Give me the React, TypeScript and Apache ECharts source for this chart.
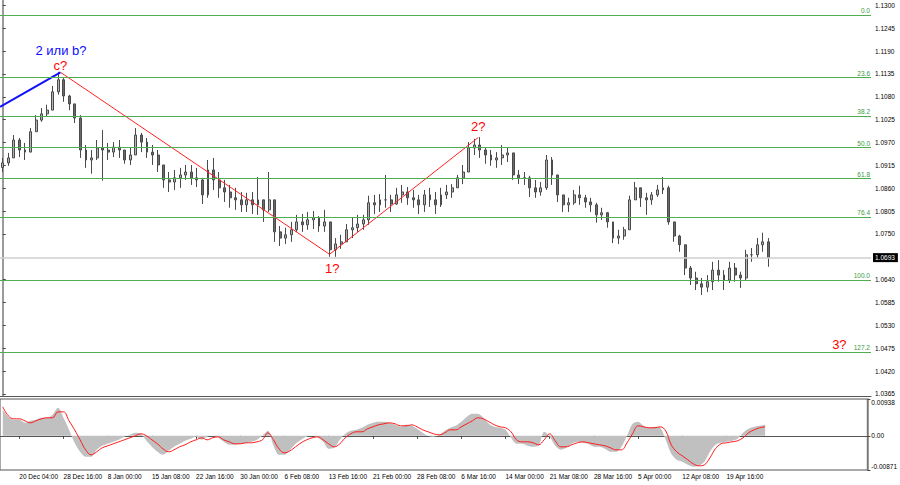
import React, { useEffect, useRef } from "react";
import * as echarts from "echarts";

// ---- price data (H4 EUR/USD, aggregated candles) ----
const firstOpen = 1.091;
const closes = [
  1.0921, 1.0933, 1.0976, 1.0952, 1.0947, 1.0996, 1.1024, 1.1039, 1.1048, 1.1092,
  1.1121, 1.1082, 1.1063, 1.1029, 1.0952, 1.0928, 1.0933, 1.0957, 1.0952, 1.0947,
  1.0959, 1.0952, 1.0928, 1.094, 1.0988, 1.0971, 1.0947, 1.094, 1.0916, 1.088,
  1.0875, 1.0885, 1.0892, 1.0899, 1.0885, 1.088, 1.0844, 1.0904, 1.088, 1.0861,
  1.0851, 1.0837, 1.0832, 1.082, 1.0832, 1.082, 1.0832, 1.0808, 1.0832, 1.0755,
  1.074, 1.0748, 1.076, 1.0779, 1.0772, 1.0784, 1.0789, 1.0769, 1.0779, 1.0712,
  1.0726, 1.0731, 1.076, 1.0765, 1.0774, 1.0784, 1.0825, 1.082, 1.0832, 1.0832,
  1.0822, 1.0844, 1.0851, 1.0837, 1.0832, 1.082, 1.0844, 1.0832, 1.082, 1.0844,
  1.0851, 1.0861, 1.0885, 1.0899, 1.0957, 1.0964, 1.0952, 1.094, 1.0928, 1.0933,
  1.094, 1.0945, 1.0892, 1.0885, 1.0885, 1.0861, 1.0851, 1.0861, 1.0928, 1.0892,
  1.0844, 1.082, 1.0825, 1.0844, 1.0837, 1.0827, 1.082, 1.0796, 1.0801, 1.0779,
  1.074, 1.0745, 1.076, 1.0832, 1.0861, 1.0837, 1.0832, 1.0844, 1.0856, 1.0861,
  1.0779, 1.0745, 1.0724, 1.0668, 1.0644, 1.063, 1.0622, 1.0635, 1.0663, 1.0651,
  1.0639, 1.0668, 1.0651, 1.0644, 1.07, 1.07, 1.0724, 1.0731, 1.0693,
];
const highs = [
  1.0933, 1.0945, 1.0988, 1.0981, 1.0969, 1.1005, 1.1036, 1.1053, 1.1061, 1.1106,
  1.114, 1.1125, 1.1085, 1.1063, 1.1036, 1.0964, 1.0952, 1.0976, 1.1, 1.0969,
  1.0971, 1.0976, 1.0952, 1.0957, 1.1005, 1.0993, 1.0981, 1.0964, 1.0952, 1.0916,
  1.0899, 1.0904, 1.0909, 1.0916, 1.0916, 1.0909, 1.0885, 1.0928, 1.0933, 1.0899,
  1.088, 1.0868, 1.0861, 1.0851, 1.0849, 1.0851, 1.0887, 1.0832, 1.0899, 1.0832,
  1.0769, 1.0765, 1.0779, 1.0796, 1.0798, 1.0803, 1.0805, 1.0793, 1.0808, 1.0772,
  1.074, 1.0748, 1.0774, 1.0789, 1.0796, 1.0796, 1.0842, 1.0844, 1.0846, 1.0892,
  1.0844, 1.0861, 1.0868, 1.0863, 1.0856, 1.0844, 1.0856, 1.0861, 1.0851, 1.0861,
  1.0868, 1.087, 1.0892, 1.0916, 1.0971, 1.0979, 1.0983, 1.0957, 1.0952, 1.0947,
  1.0964, 1.0957, 1.094, 1.0904, 1.0899, 1.089, 1.088, 1.0875, 1.094, 1.0935,
  1.088, 1.0837, 1.0837, 1.0856, 1.0866, 1.0844, 1.0837, 1.0825, 1.0813, 1.0803,
  1.0779, 1.076, 1.0767, 1.0842, 1.0875, 1.0856, 1.0849, 1.0851, 1.0868, 1.0887,
  1.0866, 1.0772, 1.0748, 1.0724, 1.0673, 1.0659, 1.0644, 1.0651, 1.0683, 1.0687,
  1.0663, 1.0683, 1.068, 1.0659, 1.0712, 1.0716, 1.074, 1.0753, 1.074,
];
const lows = [
  1.0899, 1.0914, 1.0933, 1.0935, 1.0928, 1.0952, 1.1, 1.102, 1.1032, 1.1048,
  1.1085, 1.1068, 1.1048, 1.1017, 1.0933, 1.0909, 1.0895, 1.0928, 1.0878, 1.0928,
  1.0935, 1.0933, 1.0919, 1.0916, 1.0952, 1.0947, 1.0933, 1.0916, 1.0899, 1.0861,
  1.0851, 1.0856, 1.0861, 1.088, 1.0868, 1.0863, 1.0822, 1.0837, 1.0856, 1.0837,
  1.0827, 1.0813, 1.0808, 1.0803, 1.0803, 1.0798, 1.0796, 1.0779, 1.0803, 1.0731,
  1.0721, 1.0726, 1.0731, 1.0755, 1.0755, 1.076, 1.0762, 1.0755, 1.0755, 1.0695,
  1.0695, 1.0714, 1.0731, 1.074, 1.0755, 1.076, 1.0772, 1.0798, 1.0803, 1.0813,
  1.0803, 1.082, 1.0825, 1.082, 1.0813, 1.0798, 1.0803, 1.0815, 1.0798, 1.0815,
  1.0834, 1.0837, 1.0866, 1.087, 1.0909, 1.094, 1.0933, 1.0919, 1.0914, 1.0909,
  1.0916, 1.0923, 1.088, 1.087, 1.0868, 1.0839, 1.0837, 1.0842, 1.0856, 1.0868,
  1.0827, 1.0803, 1.0803, 1.082, 1.082, 1.0813, 1.0803, 1.0777, 1.0784, 1.0765,
  1.0728, 1.0726, 1.0736, 1.0765, 1.0832, 1.0815, 1.0796, 1.082, 1.0839, 1.0846,
  1.0772, 1.0731, 1.0707, 1.0651, 1.0627, 1.0615, 1.0603, 1.061, 1.0615, 1.0635,
  1.0615, 1.0632, 1.0635, 1.062, 1.0639, 1.0683, 1.0692, 1.0707, 1.0671,
];

// ---- MACD window ----
const macdMain = [
  0.00662, 0.00484, 0.00408, 0.00408, 0.00331, 0.00382, 0.00408, 0.00459, 0.00459, 0.00535,
  0.00713, 0.00459, 0.00153, -0.00178, -0.00408, -0.00535, -0.00535, -0.00357, -0.00255, -0.00204,
  -0.00153, -0.00102, -0.00025, 0.00025, 0.00076, 0.00051, -0.00127, -0.0028, -0.00408, -0.00484,
  -0.00382, -0.0028, -0.00204, -0.00127, -0.00076, -0.00025, -0.00102, -0.00025, 0, -0.00051,
  -0.00153, -0.00229, -0.00229, -0.00204, -0.00178, -0.00153, -0.00102, 0, 0.00127, -0.00255,
  -0.00484, -0.00484, -0.00357, -0.00204, -0.00102, -0.00025, 0, -0.00051, -0.00153, -0.00331,
  -0.00306, -0.00102, 0.00051, 0.00127, 0.00153, 0.00204, 0.0028, 0.00331, 0.00357, 0.00357,
  0.00331, 0.0028, 0.00229, 0.0028, 0.00255, 0.00178, 0.00076, 0, -0.00025, 0.00025,
  0.00127, 0.00204, 0.00255, 0.00357, 0.00484, 0.00561, 0.00561, 0.00459, 0.00306, 0.00229,
  0.00204, 0.00153, -0.00051, -0.00204, -0.00204, -0.00255, -0.0028, -0.00255, 0.00102, -0.00025,
  -0.00255, -0.00357, -0.00306, -0.00204, -0.00153, -0.00178, -0.00204, -0.0028, -0.0028, -0.00331,
  -0.00408, -0.00408, -0.0028, 0, 0.00306, 0.00357, 0.00255, 0.00204, 0.00229, 0.00204,
  -0.00102, -0.00459, -0.00611, -0.00662, -0.00739, -0.0079, -0.00764, -0.00662, -0.00408, -0.00229,
  -0.00178, -0.00153, -0.00127, -0.00076, 0.00076, 0.00178, 0.00229, 0.00255, 0.0028,
];
const macdSignal = [
  0.00739, 0.0051, 0.00433, 0.00433, 0.00382, 0.00331, 0.00382, 0.00433, 0.00459, 0.00459,
  0.00611, 0.00611, 0.00382, 0.00153, -0.00102, -0.00357, -0.00484, -0.00408, -0.00306, -0.00255,
  -0.00204, -0.00153, -0.00102, -0.00051, 0, 0.00051, 0, -0.00102, -0.00204, -0.00331,
  -0.00408, -0.00357, -0.0028, -0.00229, -0.00153, -0.00102, -0.00051, -0.00102, -0.00051, -0.00025,
  -0.00102, -0.00153, -0.00204, -0.00204, -0.00178, -0.00178, -0.00153, -0.00102, 0.00076, -0.00102,
  -0.00331, -0.00433, -0.00382, -0.0028, -0.00178, -0.00102, -0.00051, -0.00025, -0.00102, -0.00204,
  -0.0028, -0.00204, -0.00051, 0.00051, 0.00102, 0.00102, 0.00178, 0.00229, 0.0028, 0.00306,
  0.00331, 0.00306, 0.00255, 0.00255, 0.0028, 0.00229, 0.00153, 0.00102, 0.00051, 0.00025,
  0.00076, 0.00153, 0.00153, 0.00229, 0.00306, 0.00382, 0.00459, 0.00433, 0.00357, 0.0028,
  0.00229, 0.00204, 0.00102, -0.00102, -0.00153, -0.00153, -0.00178, -0.00229, -0.00102, 0.00051,
  -0.00127, -0.0028, -0.0028, -0.00229, -0.00178, -0.00153, -0.00178, -0.00204, -0.00229, -0.00255,
  -0.00306, -0.00357, -0.00357, -0.00178, 0.00051, 0.00255, 0.00229, 0.00204, 0.00204, 0.00229,
  0.00127, -0.00229, -0.00408, -0.0051, -0.00611, -0.00713, -0.00764, -0.00739, -0.00561, -0.00331,
  -0.00204, -0.00178, -0.00153, -0.00127, -0.00051, 0.00076, 0.00153, 0.00204, 0.00229,
];

// ---- axes ----
const priceTicks = [
  1.0365, 1.042, 1.0475, 1.053, 1.0585, 1.064, 1.075, 1.0805, 1.086, 1.0915,
  1.097, 1.1025, 1.108, 1.1135, 1.119, 1.1245, 1.13,
];
const priceMin = 1.036;
const priceMax = 1.1313;
const oscTicks = [-0.00871, 0, 0.00938];
const timeLabels = [
  "20 Dec 04:00", "28 Dec 16:00", "8 Jan 00:00", "15 Jan 08:00", "22 Jan 16:00",
  "30 Jan 00:00", "6 Feb 08:00", "13 Feb 16:00", "21 Feb 00:00", "28 Feb 08:00",
  "6 Mar 16:00", "14 Mar 00:00", "21 Mar 08:00", "28 Mar 16:00", "5 Apr 00:00",
  "12 Apr 08:00", "19 Apr 16:00",
];
const labelStart = 3;
const labelStep = 8;
const slotCount = 157;

// ---- Fibonacci levels / bid ----
const fibLevels = ["0.0", "23.6", "38.2", "50.0", "61.8", "76.4", "100.0", "127.2"];
const fibPrices = [1.1277, 1.1126, 1.1033, 1.0958, 1.0883, 1.079, 1.0639, 1.0465];
const bidPrice = 1.0693;

// ---- wave marking (x = candle slot, y = price) ----
const waveBlue = [[-0.5, 1.1056], [10.4, 1.1139]];
const waveRed = [[10.4, 1.1139], [58.9, 1.0701], [85.7, 1.0982]];
const waveNames = ["2 или b?", "c?", "1?", "2?", "3?"];
const waveNameX = [10.5, 10.4, 59.4, 85.7, 150.8];
const waveNameY = [1.1192, 1.1155, 1.0666, 1.1008, 1.0485];
const waveNameColor = ["#0c0cff", "#ff0000", "#ff0000", "#ff0000", "#ff0000"];

const FONT = "Liberation Sans, Arial, sans-serif";

export default function App() {
  const ref = useRef<HTMLDivElement>(null);
  useEffect(() => {
    if (!ref.current) return;
    const chart = echarts.init(ref.current, undefined, { renderer: "svg" });

    const categories = Array.from({ length: slotCount }, (_, i) => {
      const k = (i - labelStart) / labelStep;
      return Number.isInteger(k) && k >= 0 && k < timeLabels.length ? timeLabels[k] : "s" + i;
    });
    const showLabel = (idx: number) =>
      idx >= labelStart && (idx - labelStart) % labelStep === 0 && (idx - labelStart) / labelStep < timeLabels.length;

    const candles = closes.map((c, i) => {
      const o = i === 0 ? firstOpen : closes[i - 1];
      const h = Math.max(highs[i], o, c);
      const l = Math.min(lows[i], o, c);
      return [o, c, l, h];
    });

    const markData: any[] = fibPrices.map((p, i) => ({
      yAxis: p,
      lineStyle: { color: "#4fae4f", width: 1, type: "solid" },
      label: {
        show: true,
        position: "insideEndTop",
        formatter: fibLevels[i],
        color: "#3a9a3a",
        fontSize: 6.5,
        fontFamily: FONT,
        distance: 1,
      },
    }));
    markData.push({
      yAxis: bidPrice,
      lineStyle: { color: "#cfcfcf", width: 1.5, type: "solid" },
      label: {
        show: true,
        position: "end",
        formatter: bidPrice.toFixed(4),
        color: "#ffffff",
        backgroundColor: "#000000",
        padding: [1, 3, 1, 2],
        fontSize: 6.5,
        fontFamily: FONT,
        distance: 2,
      },
    });

    const option: any = {
      animation: false,
      backgroundColor: "#ffffff",
      textStyle: { fontFamily: FONT },
      grid: [
        { left: 0, right: 29, top: 0, height: 396, show: false },
        {
          left: 0, right: 29, top: 399, height: 71, show: true,
          borderColor: "#555555", borderWidth: 1, backgroundColor: "transparent",
        },
      ],
      xAxis: [
        {
          type: "category", gridIndex: 0, data: categories, boundaryGap: true,
          axisLine: { show: true, lineStyle: { color: "#555555", width: 1 } },
          axisTick: { show: false }, axisLabel: { show: false }, splitLine: { show: false },
        },
        {
          type: "category", gridIndex: 1, data: categories, boundaryGap: true,
          axisLine: { show: true, lineStyle: { color: "#555555", width: 1 } },
          axisTick: {
            show: true, interval: (i: number) => showLabel(i), alignWithLabel: true,
            length: 3, lineStyle: { color: "#444444" },
          },
          axisLabel: {
            show: true, interval: (i: number) => showLabel(i), align: "left",
            fontSize: 6.5, color: "#000000", margin: 3, fontFamily: FONT,
          },
          splitLine: { show: false },
        },
        { type: "value", gridIndex: 0, min: -0.5, max: slotCount - 0.5, show: false },
      ],
      yAxis: [
        {
          type: "value", gridIndex: 0, position: "right", min: priceMin, max: priceMax,
          splitLine: { show: false },
          axisLine: { show: true, lineStyle: { color: "#7a7a7a", width: 1.5 } },
          axisTick: { show: true, customValues: priceTicks, length: 3, lineStyle: { color: "#444444" } },
          axisLabel: {
            show: true, customValues: priceTicks, formatter: (v: number) => v.toFixed(4),
            fontSize: 6.5, color: "#000000", margin: 4, fontFamily: FONT,
          },
        },
        {
          type: "value", gridIndex: 1, position: "right", min: oscTicks[0], max: oscTicks[2],
          splitLine: { show: false },
          axisLine: { show: true, lineStyle: { color: "#7a7a7a", width: 1.5 } },
          axisTick: { show: true, customValues: oscTicks, length: 3, lineStyle: { color: "#444444" } },
          axisLabel: {
            show: true, customValues: oscTicks,
            formatter: (v: number) => (v === 0 ? "0.00" : v.toFixed(5)),
            fontSize: 6.5, color: "#000000", margin: 4, fontFamily: FONT,
            verticalAlignMinLabel: "bottom", verticalAlignMaxLabel: "top",
          },
        },
      ],
      series: [
        {
          type: "candlestick", xAxisIndex: 0, yAxisIndex: 0, data: candles,
          barWidth: 2.4,
          itemStyle: {
            color: "#b4b4b4", color0: "#6a6a6a",
            borderColor: "#4a4a4a", borderColor0: "#4a4a4a", borderWidth: 1,
          },
          markLine: {
            silent: true, symbol: ["none", "none"], animation: false, precision: 5,
            data: markData,
          },
        },
        {
          type: "line", xAxisIndex: 2, yAxisIndex: 0, data: waveBlue, symbol: "none",
          lineStyle: { color: "#1010ff", width: 2 }, silent: true,
        },
        {
          type: "line", xAxisIndex: 2, yAxisIndex: 0, data: waveRed, symbol: "none",
          lineStyle: { color: "#ff2020", width: 1 }, silent: true,
        },
        {
          type: "scatter", xAxisIndex: 2, yAxisIndex: 0, symbolSize: 1,
          itemStyle: { color: "rgba(0,0,0,0)", opacity: 1 }, silent: true,
          data: waveNames.map((n, i) => ({
            name: n,
            value: [waveNameX[i], waveNameY[i]],
            label: { color: waveNameColor[i] },
          })),
          label: { show: true, position: "inside", formatter: "{b}", fontSize: 13, fontFamily: FONT },
          labelLayout: { hideOverlap: false },
        },
        {
          type: "line", xAxisIndex: 1, yAxisIndex: 1, data: macdMain, symbol: "none",
          lineStyle: { width: 0 }, areaStyle: { color: "#c0c0c0", opacity: 1 }, smooth: 0.3, silent: true,
        },
        {
          type: "line", xAxisIndex: 1, yAxisIndex: 1, data: macdSignal, symbol: "none",
          lineStyle: { color: "#ff1a1a", width: 1 }, smooth: 0.4, silent: true,
        },
      ],
    };
    chart.setOption(option);
    return () => chart.dispose();
  }, []);
  return (
    <div
      ref={ref}
      style={{ position: "fixed", left: 0, top: 0, width: 900, height: 485, background: "#fff" }}
    />
  );
}
